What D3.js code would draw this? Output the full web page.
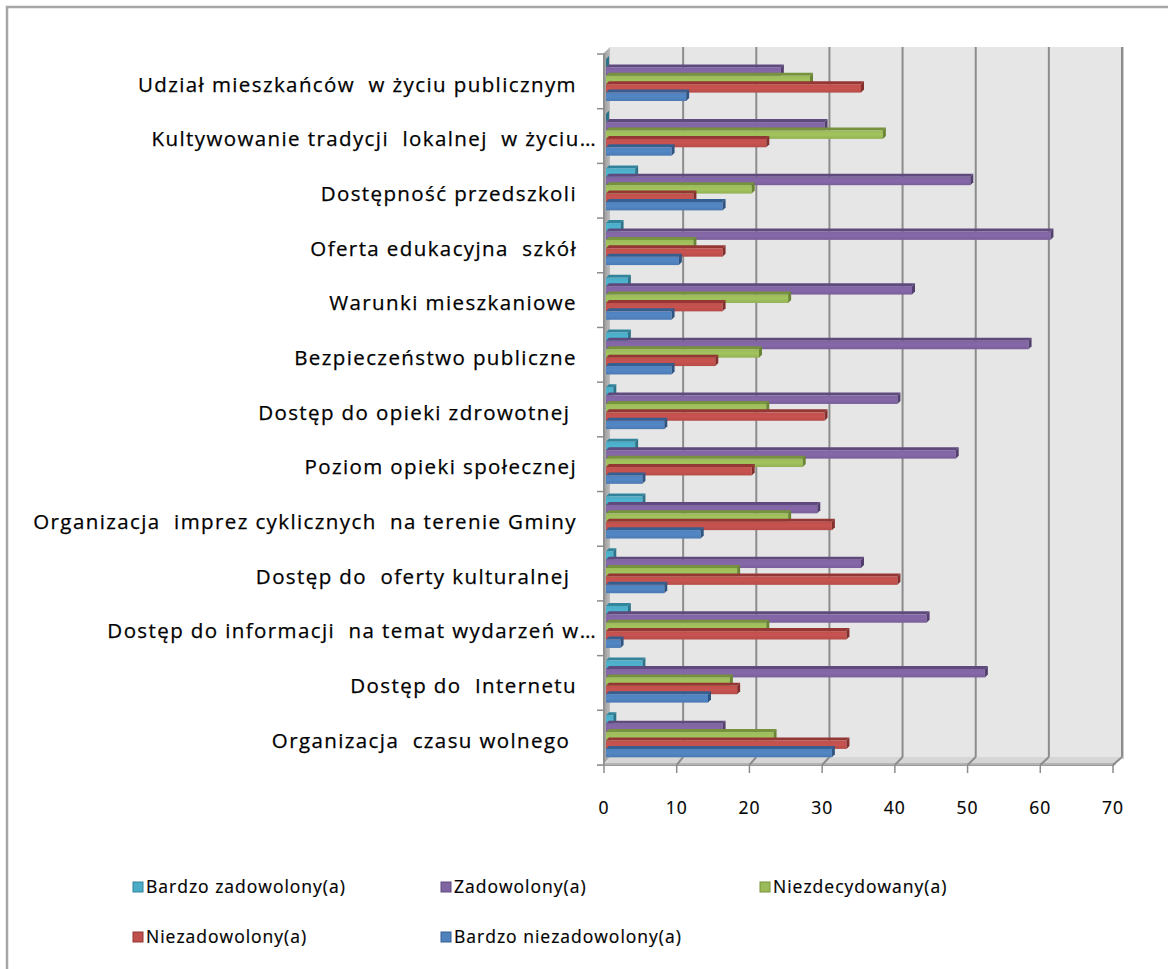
<!DOCTYPE html>
<html><head><meta charset="utf-8">
<script src="https://cdn.jsdelivr.net/npm/d3@7"></script>
<style>
body{margin:0;background:#fff}
text{font-family:"Open Sans",Lato,sans-serif;white-space:pre;fill:#000}
</style>
</head><body>
<svg id="c" width="1168" height="969"></svg>
<script>
const categories = [
  "Udział mieszkańców  w życiu publicznym",
  "Kultywowanie tradycji  lokalnej  w życiu…",
  "Dostępność przedszkoli",
  "Oferta edukacyjna  szkół",
  "Warunki mieszkaniowe",
  "Bezpieczeństwo publiczne",
  "Dostęp do opieki zdrowotnej ",
  "Poziom opieki społecznej",
  "Organizacja  imprez cyklicznych  na terenie Gminy",
  "Dostęp do  oferty kulturalnej ",
  "Dostęp do informacji  na temat wydarzeń w…",
  "Dostęp do  Internetu",
  "Organizacja  czasu wolnego "
];
const seriesNames = ["Bardzo zadowolony(a)","Zadowolony(a)","Niezdecydowany(a)","Niezadowolony(a)","Bardzo niezadowolony(a)"];
const bardzoZadowolony    = [0, 0, 4, 2, 3, 3, 1, 4, 5, 1, 3, 5, 1];
const zadowolony          = [24, 30, 50, 61, 42, 58, 40, 48, 29, 35, 44, 52, 16];
const niezdecydowany      = [28, 38, 20, 12, 25, 21, 22, 27, 25, 18, 22, 17, 23];
const niezadowolony       = [35, 22, 12, 16, 16, 15, 30, 20, 31, 40, 33, 18, 33];
const bardzoNiezadowolony = [11, 9, 16, 10, 9, 9, 8, 5, 13, 8, 2, 14, 31];
const xTicks = [0, 10, 20, 30, 40, 50, 60, 70];

const seriesValues = [bardzoZadowolony, zadowolony, niezdecydowany, niezadowolony, bardzoNiezadowolony];
const colors = {
  "Bardzo zadowolony(a)":    {front:"#4bacc6", top:"#31849b", cap:"#2b7489"},
  "Zadowolony(a)":           {front:"#8064a2", top:"#5f4a7d", cap:"#533f6e"},
  "Niezdecydowany(a)":       {front:"#9bbb59", top:"#76923c", cap:"#6a8534"},
  "Niezadowolony(a)":        {front:"#c0504d", top:"#943634", cap:"#842f2d"},
  "Bardzo niezadowolony(a)": {front:"#4f81bd", top:"#365f91", cap:"#2f5482"}
};

const svg = d3.select("#c");
const defs = svg.append("defs");

// outer frame
svg.append("rect").attr("x",7).attr("y",7).attr("width",1300).attr("height",1300)
  .attr("fill","none").attr("stroke","#a6a6a6").attr("stroke-width",2.5);

const xBack  = d3.scaleLinear().domain([0,70]).range([610,1122]);
const xFront = d3.scaleLinear().domain([0,70]).range([604,1113]);
const xBar   = d3.scaleLinear().domain([0,70]).range([606,1116]);
const wallTop = 47, wallBottom = 757, floorFront = 765;
const y = d3.scaleBand().domain(categories).range([54,765]);
const ys = d3.scaleBand().domain(seriesNames).range([5,47]);

// gradients
const lw = defs.append("linearGradient").attr("id","lw").attr("x1",0).attr("x2",1).attr("y1",0).attr("y2",0);
lw.append("stop").attr("offset",0).attr("stop-color","#969696");
lw.append("stop").attr("offset",1).attr("stop-color","#bdbdbd");
seriesNames.forEach((s,i)=>{
  const g = defs.append("linearGradient").attr("id","g"+i).attr("x1",0).attr("x2",0).attr("y1",0).attr("y2",1);
  const c = d3.color(colors[s].front);
  g.append("stop").attr("offset",0).attr("stop-color",c);
  g.append("stop").attr("offset",0.5).attr("stop-color",c.brighter(0.12));
  g.append("stop").attr("offset",1).attr("stop-color",c.darker(0.15));
});

// back wall
svg.append("rect").attr("x",xBack(0)).attr("y",wallTop).attr("width",xBack(70)-xBack(0)).attr("height",wallBottom-wallTop)
  .attr("fill","#e6e6e6");
svg.append("rect").attr("x",xBack(70)).attr("y",wallTop).attr("width",2).attr("height",wallBottom-wallTop+2).attr("fill","#cfcfcf");
// floor
svg.append("polygon").attr("points",[[xBack(0),wallBottom],[xBack(70),wallBottom],[xFront(70),floorFront],[xFront(0),floorFront]].map(p=>p.join(",")).join(" "))
  .attr("fill","#d6d6d6");
svg.append("polygon").attr("points",[[xFront(0),floorFront-2],[xFront(70)+1,floorFront-2],[xFront(70)+3,floorFront-4],[xFront(70)+3,floorFront-1],[xFront(70)+1,floorFront+1],[xFront(0),floorFront+1]].map(p=>p.join(",")).join(" "))
  .attr("fill","#b3b3b3");
// left wall
svg.append("polygon").attr("points",[[xFront(0)-1,54],[xBack(0),wallTop],[xBack(0),wallBottom],[xFront(0)-1,floorFront]].map(p=>p.join(",")).join(" "))
  .attr("fill","url(#lw)");

// gridlines
xTicks.filter(v=>v>0).forEach(v=>{
  svg.append("line").attr("x1",xBack(v)).attr("x2",xBack(v)).attr("y1",wallTop).attr("y2",wallBottom)
    .attr("stroke","#8c8c8c").attr("stroke-width",2);
  svg.append("line").attr("x1",xBack(v)).attr("x2",xFront(v)).attr("y1",wallBottom).attr("y2",floorFront)
    .attr("stroke","#8c8c8c").attr("stroke-width",2);
});

// left axis line and ticks
svg.append("line").attr("x1",xFront(0)).attr("x2",xFront(0)).attr("y1",54).attr("y2",floorFront)
  .attr("stroke","#8c8c8c").attr("stroke-width",1.5);
const bounds = categories.map(c=>y(c)).concat([y.range()[1]]);
bounds.forEach(b=>{
  svg.append("line").attr("x1",597).attr("x2",xFront(0)).attr("y1",b).attr("y2",b)
    .attr("stroke","#8c8c8c").attr("stroke-width",1.5);
});
svg.append("line").attr("x1",597).attr("x2",xFront(70)).attr("y1",floorFront+0.5).attr("y2",floorFront+0.5)
  .attr("stroke","#9a9a9a").attr("stroke-width",1);
xTicks.forEach(v=>{
  svg.append("line").attr("x1",xFront(v)).attr("x2",xFront(v)).attr("y1",floorFront).attr("y2",floorFront+8)
    .attr("stroke","#8c8c8c").attr("stroke-width",1.5);
});

// bars (front face spans the slot, top face rises above it)
const dd = 3;
const gb = svg.append("g");
categories.forEach((cat,ci)=>{
  seriesNames.forEach((s,si)=>{
    const v = seriesValues[si][ci];
    const h = ys.bandwidth();
    const yT = y(cat) + ys(s);
    const x0 = xBar(0), x1 = xBar(v);
    const col = colors[s];
    gb.append("polygon").attr("points",[[x0,yT],[x1,yT],[x1+dd,yT-dd],[x0+dd,yT-dd]].map(p=>p.join(",")).join(" "))
      .attr("fill",col.top);
    gb.append("rect").attr("x",x0).attr("y",yT).attr("width",Math.max(0,x1-x0)).attr("height",h)
      .attr("fill","url(#g"+si+")");
    gb.append("polygon").attr("points",[[x1,yT],[x1+dd,yT-dd],[x1+dd,yT+h-dd],[x1,yT+h]].map(p=>p.join(",")).join(" "))
      .attr("fill",col.cap);
  });
});

// category labels
svg.append("g").selectAll("text").data(categories).join("text")
  .attr("x",d=>d.endsWith("…")?597:577)
  .attr("y",d=>y(d)+y.bandwidth()/2+3)
  .attr("dy","0.35em").attr("text-anchor","end")
  .style("font-size","20.5px").style("letter-spacing","1.4px")
  .style("stroke","#000").style("stroke-width","0.25px")
  .text(d=>d);

// x tick labels
svg.append("g").selectAll("text").data(xTicks).join("text")
  .attr("x",d=>xFront(d)).attr("y",808).attr("dy","0.35em").attr("text-anchor","middle")
  .style("font-size","17.5px").style("letter-spacing","1px")
  .style("stroke","#000").style("stroke-width","0.2px").text(d=>d);

// legend
const legX = [133,441,760];
const lg = svg.append("g");
seriesNames.forEach((s,i)=>{
  const cx = legX[i%3], cy = 887 + Math.floor(i/3)*50;
  lg.append("rect").attr("x",cx).attr("y",cy-5).attr("width",10).attr("height",10)
    .attr("fill",colors[s].front).attr("stroke",colors[s].top).attr("stroke-width",1);
  lg.append("text").attr("x",cx+13).attr("y",cy).attr("dy","0.35em")
    .style("font-size","17.5px").style("letter-spacing","1px")
    .style("stroke","#000").style("stroke-width","0.2px").text(s);
});
</script>
</body></html>
